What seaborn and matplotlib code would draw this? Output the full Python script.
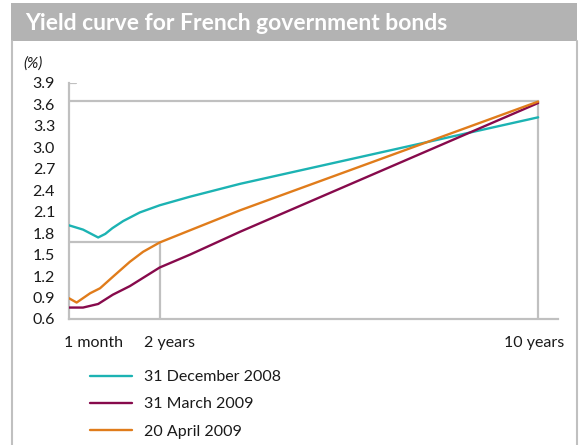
import matplotlib.pyplot as plt
import matplotlib.transforms as mtransforms
from matplotlib.patches import Rectangle
from matplotlib.lines import Line2D
import pandas as pd
import seaborn as sns

# maturities in years, yields in %
dec08_x = [1 / 12, 0.38, 0.70, 0.85, 1.0, 1.23, 1.58, 2.0, 2.64, 3.70, 10.0]
dec08_y = [1.91, 1.85, 1.74, 1.79, 1.87, 1.97, 2.09, 2.19, 2.31, 2.49, 3.42]

mar09_x = [1 / 12, 0.38, 0.70, 1.01, 1.37, 2.0, 2.64, 3.70, 10.0]
mar09_y = [0.76, 0.76, 0.81, 0.94, 1.06, 1.32, 1.50, 1.82, 3.62]

apr09_x = [1 / 12, 0.245, 0.53, 0.74, 1.01, 1.37, 1.65, 2.0, 2.64, 3.70, 10.0]
apr09_y = [0.89, 0.83, 0.96, 1.03, 1.19, 1.40, 1.54, 1.67, 1.84, 2.12, 3.64]

series_names = ["31 December 2008", "31 March 2009", "20 April 2009"]
colors = ["#1cb3b3", "#870a4c", "#e07c1b"]

y_ticks = [0.6, 0.9, 1.2, 1.5, 1.8, 2.1, 2.4, 2.7, 3.0, 3.3, 3.6, 3.9]
x_ticks = [1 / 12, 2, 10]
x_labels = ["1 month", "2 years", "10 years"]

# reference marks: 2y and 10y yields on 20 April 2009
ref_2y = 1.67
ref_10y = 3.645

GRID = "#c0c0c0"
TEXT = "#1a1a1a"

frames = []
for name, xs, ys in zip(series_names, [dec08_x, mar09_x, apr09_x],
                        [dec08_y, mar09_y, apr09_y]):
    frames.append(pd.DataFrame({"maturity": xs, "yield": ys, "date": name}))
df = pd.concat(frames, ignore_index=True)

sns.set_style("white")
plt.rcParams["font.family"] = ["Lato", "DejaVu Sans"]

fig = plt.figure(figsize=(5.8, 4.45), dpi=100)

# title banner and frame
fig.patches.append(Rectangle((11 / 580, 1 - 41 / 445), 566 / 580, 38 / 445,
                             transform=fig.transFigure, facecolor="#b3b3b3",
                             edgecolor="none", zorder=0))
fig.lines.append(Line2D([11.5 / 580, 11.5 / 580], [0, 1 - 41 / 445],
                        transform=fig.transFigure, color=GRID, lw=1.5))
fig.lines.append(Line2D([577 / 580, 577 / 580], [0, 1 - 41 / 445],
                        transform=fig.transFigure, color=GRID, lw=1.5))
fig.text(25 / 580, 1 - 23 / 445, "Yield curve for French government bonds",
         color="white", fontsize=16.5, fontweight="bold", va="center", ha="left")

ax = fig.add_axes([69 / 580, 1 - 319 / 445, 489 / 580, 236 / 445])

# reference lines
ax.plot([1 / 12, 10, 10], [ref_10y, ref_10y, 0.6], color=GRID, lw=1.6,
        zorder=1, solid_joinstyle="miter")
ax.plot([1 / 12, 2, 2], [ref_2y, ref_2y, 0.6], color=GRID, lw=1.6,
        zorder=1, solid_joinstyle="miter")
ax.plot([1 / 12, 1 / 12 + 0.15], [3.9, 3.9], color=GRID, lw=1.6, zorder=1)

sns.lineplot(data=df, x="maturity", y="yield", hue="date", hue_order=series_names,
             palette=colors, linewidth=1.7, ax=ax, legend=False, zorder=3)

ax.set_xlim(1 / 12, 10.42)
ax.set_ylim(0.6, 3.9)
ax.set_yticks(y_ticks)
ax.set_yticklabels([f"{v:.1f}" for v in y_ticks])
ax.set_xticks(x_ticks)
ax.set_xticklabels(x_labels)
ax.tick_params(axis="both", length=0, labelsize=11.5, colors=TEXT)
ax.tick_params(axis="y", pad=10)
ax.tick_params(axis="x", pad=12)
ax.set_xlabel("")
ax.set_ylabel("")

# nudge x labels the way the original sets them
offsets = [24, 10, -4]
for lab, dx in zip(ax.get_xticklabels(), offsets):
    lab.set_transform(lab.get_transform() +
                      mtransforms.ScaledTranslation(dx / 100, 0, fig.dpi_scale_trans))

for side in ["top", "right"]:
    ax.spines[side].set_visible(False)
for side in ["left", "bottom"]:
    ax.spines[side].set_color(GRID)
    ax.spines[side].set_linewidth(1.6)

fig.text(23 / 580, 1 - 64 / 445, "(%)", fontsize=11, style="italic",
         va="center", ha="left", color=TEXT)

handles = [Line2D([0], [0], color=c, lw=1.7) for c in colors]
fig.legend(handles, series_names, loc="upper left",
           bbox_to_anchor=(90 / 580, 1 - 370 / 445), frameon=False,
           fontsize=11.5, handlelength=2.6, handletextpad=0.8, labelspacing=0.82,
           borderpad=0, borderaxespad=0, labelcolor=TEXT)

fig.savefig("out.png", dpi=100)
